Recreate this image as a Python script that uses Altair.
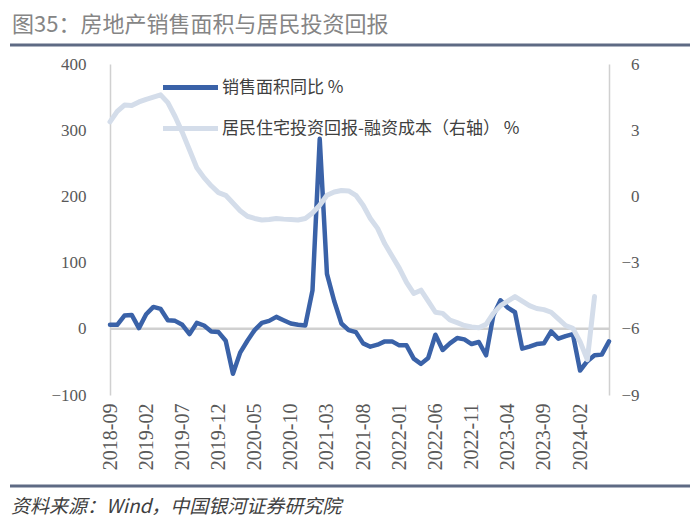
import altair as alt
import pandas as pd

# ---------------- data ----------------
MONTHS = pd.date_range("2018-09-01", periods=70, freq="MS").strftime("%Y-%m").tolist()
TICK_LABELS = ["2018-09", "2019-02", "2019-07", "2019-12", "2020-05", "2020-10",
               "2021-03", "2021-08", "2022-01", "2022-06", "2022-11", "2023-04",
               "2023-09", "2024-02"]

SERIES_SALES = "销售面积同比 %"
SERIES_RETURN = "居民住宅投资回报-融资成本（右轴） %"

SALES = [6, 6, 20, 21, 1, 22, 33, 30, 13, 12,
         6, -8, 9, 5, -4, -5, -18, -68, -36, -18,
         -2, 9, 12, 18, 13, 8, 6, 5, 58, 287,
         83, 42, 8, -2, -5, -22, -27, -24, -19, -19,
         -25, -25, -45, -53, -44, -9, -32, -22, -14, -16,
         -23, -20, -40, 20, 43, 32, 25, -30, -27, -23,
         -22, -4, -15, -11, -8, -63, -49, -40, -39, -19]

RETURN = [3.38, 3.85, 4.14, 4.12, 4.28, 4.40, 4.50, 4.60, 4.25, 3.62,
          2.90, 2.10, 1.30, 0.85, 0.48, 0.17, 0.05, -0.30, -0.65, -0.90,
          -1.00, -1.07, -1.05, -1.00, -1.03, -1.05, -1.07, -1.00, -0.75, -0.40,
          0.05, 0.20, 0.27, 0.25, 0.05, -0.40, -1.00, -1.45, -2.15, -2.70,
          -3.25, -3.90, -4.40, -4.25, -4.75, -5.25, -5.30, -5.60, -5.72, -5.85,
          -5.92, -5.95, -5.80, -5.30, -4.95, -4.75, -4.54, -4.75, -4.95, -5.08,
          -5.13, -5.25, -5.55, -5.85, -5.98, -6.58, -7.40, -4.54]

LEFT_TICKS = [-100, 0, 100, 200, 300, 400]
RIGHT_TICKS = [-9, -6, -3, 0, 3, 6]

TITLE = "图35：房地产销售面积与居民投资回报"
SOURCE = "资料来源：Wind，中国银河证券研究院"

DARK = "#3A62A8"
LIGHT = "#D4DDEA"
AXIS_GRAY = "#D0D0D0"
LABEL_GRAY = "#595959"
RULE_COLOR = "#5E6A84"

sales_df = pd.DataFrame({"month": MONTHS, "value": SALES, "series": SERIES_SALES})
ret_df = pd.DataFrame({"month": MONTHS[:len(RETURN)], "value": RETURN, "series": SERIES_RETURN})
zero_df = pd.DataFrame({"value": [0]})

# ---------------- encodings ----------------
x_enc = alt.X(
    "month:O",
    scale=alt.Scale(type="point", padding=0, domain=MONTHS),
    axis=alt.Axis(values=TICK_LABELS, labelAngle=270, labelFont="Liberation Serif",
                  labelFontSize=20, labelColor=LABEL_GRAY, domain=False, ticks=False,
                  labelPadding=8, title=None, grid=False),
)

left_axis = alt.Axis(values=LEFT_TICKS, labelFont="Liberation Serif", labelFontSize=17,
                     labelColor=LABEL_GRAY, domainColor=AXIS_GRAY, domainWidth=1.5,
                     ticks=False, grid=False, labelPadding=24, title=None, orient="left")
right_axis = alt.Axis(values=RIGHT_TICKS, labelFont="Liberation Serif", labelFontSize=17,
                      labelColor=LABEL_GRAY, domainColor=AXIS_GRAY, domainWidth=1.5,
                      ticks=False, grid=False, labelPadding=30, labelAlign="right",
                      title=None, orient="right")

left_scale = alt.Scale(domain=[-100, 400], nice=False, zero=False)
right_scale = alt.Scale(domain=[-9, 6], nice=False, zero=False)

legend = alt.Legend(
    orient="none", legendX=67, legendY=10, title=None,
    symbolType="M-2.5,0H2.5", symbolSize=484, symbolStrokeWidth=5,
    labelFont="Noto Sans CJK SC", labelFontSize=17, labelColor="#404040",
    labelOffset=18, rowPadding=17, padding=0, labelLimit=0,
)
color_enc = alt.Color("series:N",
                      scale=alt.Scale(domain=[SERIES_SALES, SERIES_RETURN], range=[DARK, LIGHT]),
                      legend=legend)

zero_rule = alt.Chart(zero_df).mark_rule(color=AXIS_GRAY, strokeWidth=2.5).encode(
    y=alt.Y("value:Q", scale=left_scale, axis=left_axis)
)
sales_line = alt.Chart(sales_df).mark_line(strokeWidth=4.5, strokeJoin="round", strokeCap="round").encode(
    x=x_enc,
    y=alt.Y("value:Q", scale=left_scale, axis=left_axis),
    color=color_enc,
)
ret_line = alt.Chart(ret_df).mark_line(strokeWidth=5, strokeJoin="round", strokeCap="round").encode(
    x=x_enc,
    y=alt.Y("value:Q", scale=right_scale, axis=right_axis),
    color=color_enc,
)

# ---------------- decorations (title, source, rules) ----------------
title_text = alt.Chart(pd.DataFrame({"t": [TITLE]})).mark_text(
    align="left", baseline="middle", font="Noto Sans CJK SC", fontSize=22, color="#858585"
).encode(x=alt.value(-98), y=alt.value(-39), text="t:N")

source_text = alt.Chart(pd.DataFrame({"t": [SOURCE]})).mark_text(
    align="left", baseline="middle", font="Noto Sans CJK SC", fontSize=19,
    fontStyle="italic", color="#404040"
).encode(x=alt.value(-99), y=alt.value(443), text="t:N")

top_rule = alt.Chart(pd.DataFrame({"k": [0]})).mark_rule(color=RULE_COLOR, strokeWidth=3).encode(
    x=alt.value(-100), x2=alt.value(580), y=alt.value(-19)
)
bottom_rule = alt.Chart(pd.DataFrame({"k": [0]})).mark_rule(color=RULE_COLOR, strokeWidth=3).encode(
    x=alt.value(-100), x2=alt.value(580), y=alt.value(422)
)

left_group = alt.layer(zero_rule, sales_line)
chart = alt.layer(left_group, ret_line, title_text, source_text, top_rule, bottom_rule).resolve_scale(
    y="independent"
).properties(
    width=499, height=331,
    autosize=alt.AutoSizeParams(type="none"),
    padding={"left": 110, "top": 64, "right": 91, "bottom": 130},
    background="white",
).configure_view(stroke=None)

chart.save("out.html", embed_options={"renderer": "svg", "actions": False})
